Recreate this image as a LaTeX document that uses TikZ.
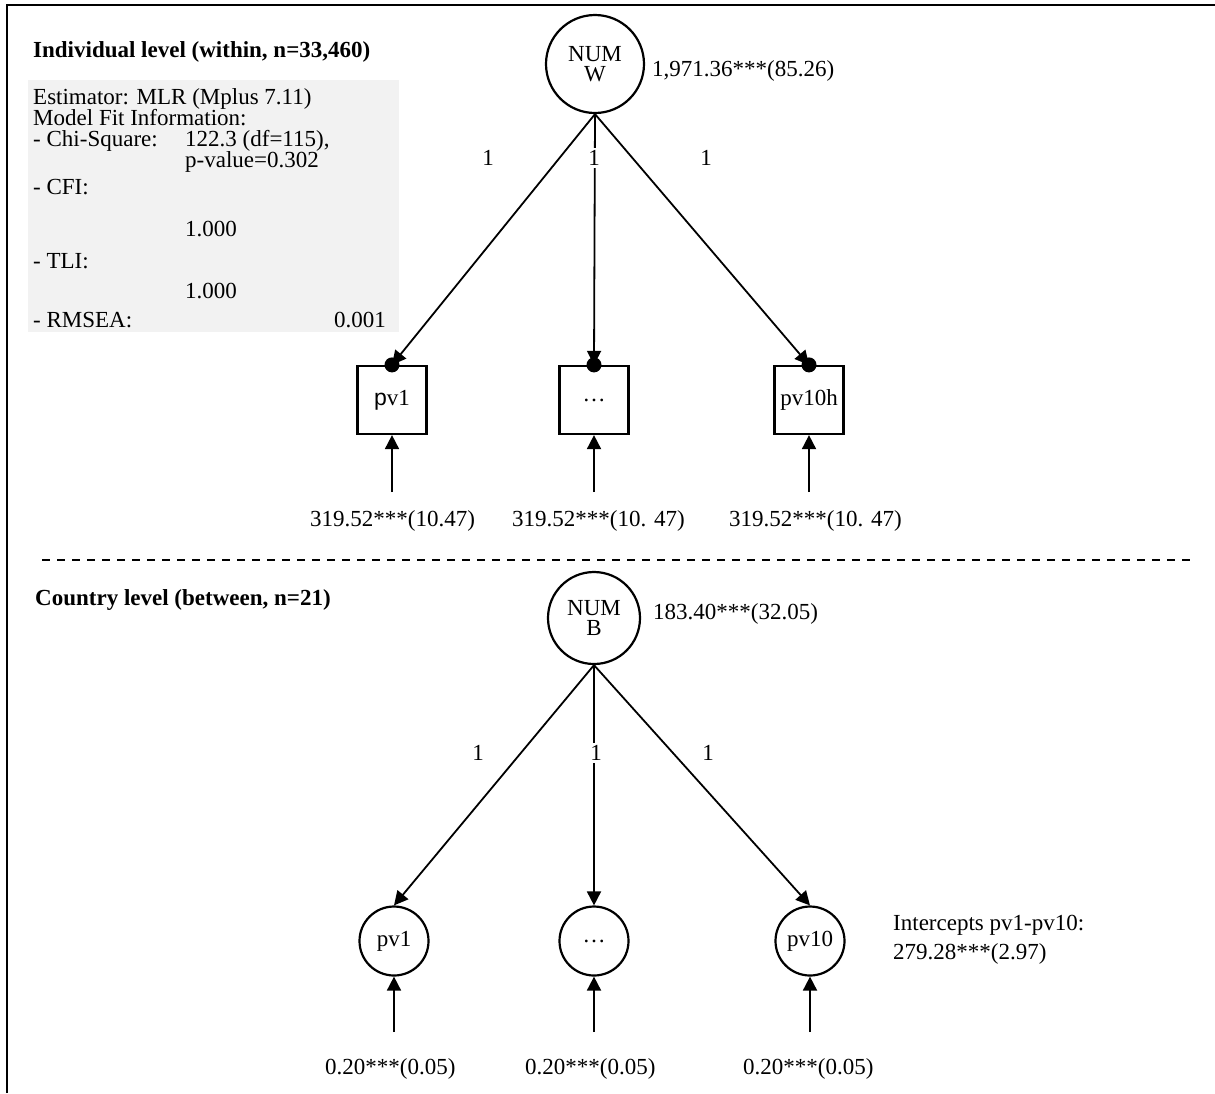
\documentclass[tikz,border=0pt]{standalone}
\usepackage{fontspec}
\setmainfont{Liberation Serif}
\setsansfont{Liberation Sans}
\usepackage{tikz}
\usetikzlibrary{arrows.meta,positioning}
\usepackage{xcolor}
\definecolor{FitGray}{HTML}{F2F2F2}
\newcommand{\diagfont}{\fontsize{23}{20}\selectfont}
\tikzset{
  heading/.style={anchor=base west,inner sep=0pt,font=\diagfont\bfseries},
  fitline/.style={anchor=base west,inner sep=0pt},
  value/.style={anchor=base west,inner sep=0pt},
  latent/.style={circle,draw,line width=2.2pt,inner sep=0pt,minimum size=98pt,align=center},
  observed/.style={rectangle,draw,line width=2.2pt,inner sep=0pt,minimum width=69pt,minimum height=68pt},
  indicator/.style={circle,draw,line width=2.2pt,inner sep=0pt,minimum size=69pt},
  loading/.style={line width=1.8pt,-{Triangle[length=14pt,width=14pt]}},
  one/.style={inner sep=2pt},
  oneon/.style={inner sep=2pt,fill=white}
}

\begin{document}
\begin{tikzpicture}[x=1pt,y=-1pt,font=\diagfont]
    \useasboundingbox (0,0) rectangle (1215,1093);
    \draw[line width=2.5pt] (7,1093) -- (7,5) -- (1215,5);

    \node[heading] (titleW) at (33,57) {Individual level (within, n=33,460)};
    \fill[FitGray] (28,80) rectangle (399,332);
    \node[fitline] (est) at (33,104) {Estimator: MLR (Mplus 7.11)};
    \node[fitline] (mfi) at (33,125) {Model Fit Information:};
    \node[fitline] (chi) at (33,146) {- Chi-Square:};
    \node[fitline] (chiv) at (185,146) {122.3 (df=115),};
    \node[fitline] (pval) at (185,167) {p-value=0.302};
    \node[fitline] (cfi) at (33,194) {- CFI:};
    \node[fitline] (cfiv) at (185,236) {1.000};
    \node[fitline] (tli) at (33,268) {- TLI:};
    \node[fitline] (tliv) at (185,298) {1.000};
    \node[fitline] (rmsea) at (33,327) {- RMSEA:};
    \node[fitline,anchor=base east] (rmseav) at (386,327) {0.001};

    \node[latent] (numW) at (595,64) {NUM\\W};
    \node[value] (numWvar) at (652,76) {1,971.36***(85.26)};

    \node[observed] (w1) at (392,400) {{\sffamily p}v1};
    \node[observed] (w2) at (594,400) {\ldots};
    \node[observed] (w3) at (809,400) {pv10h};

    \draw[loading] (numW.south) -- (w1.north);
    \draw[loading] (numW.south) -- (w2.north);
    \draw[loading] (numW.south) -- (w3.north);
    \fill (w1.north) circle (7.5pt);
    \fill (w2.north) circle (7.5pt);
    \fill (w3.north) circle (7.5pt);
    \node[one] (lw1) at (488,158) {1};
    \node[oneon] (lw2) at (594,158) {1};
    \node[one] (lw3) at (706,158) {1};

    \coordinate (ew1) at (392,492);
    \coordinate (ew2) at (594,492);
    \coordinate (ew3) at (809,492);
    \draw[loading] (ew1) -- (w1);
    \draw[loading] (ew2) -- (w2);
    \draw[loading] (ew3) -- (w3);
    \node[value] (ew1v) at (310,526) {319.52***(10.47)};
    \node[value] (ew2v) at (512,526) {319.52***(10. 47)};
    \node[value] (ew3v) at (729,526) {319.52***(10. 47)};

    \coordinate (dashL) at (42,560);
    \coordinate (dashR) at (1190,560);
    \draw[line width=1.6pt,dash pattern=on 8pt off 7pt] (dashL) -- (dashR);

    \node[heading] (titleB) at (35,605) {Country level (between, n=21)};
    \node[latent,minimum size=92pt] (numB) at (594,618) {NUM\\B};
    \node[value] (numBvar) at (653,619) {183.40***(32.05)};

    \node[indicator] (b1) at (394,941) {pv1};
    \node[indicator] (b2) at (594,941) {\ldots};
    \node[indicator] (b3) at (810,941) {pv10};

    \draw[loading] (numB.south) -- (b1.north);
    \draw[loading] (numB.south) -- (b2.north);
    \draw[loading] (numB.south) -- (b3.north);
    \node[one] (lb1) at (478,753) {1};
    \node[oneon] (lb2) at (596,753) {1};
    \node[one] (lb3) at (708,753) {1};

    \coordinate (eb1) at (394,1032);
    \coordinate (eb2) at (594,1032);
    \coordinate (eb3) at (810,1032);
    \draw[loading] (eb1) -- (b1);
    \draw[loading] (eb2) -- (b2);
    \draw[loading] (eb3) -- (b3);
    \node[value] (eb1v) at (325,1074) {0.20***(0.05)};
    \node[value] (eb2v) at (525,1074) {0.20***(0.05)};
    \node[value] (eb3v) at (743,1074) {0.20***(0.05)};

    \node[value] (icpt) at (893,930) {Intercepts pv1-pv10:};
    \node[value] (icptv) at (893,959) {279.28***(2.97)};
\end{tikzpicture}
\end{document}
